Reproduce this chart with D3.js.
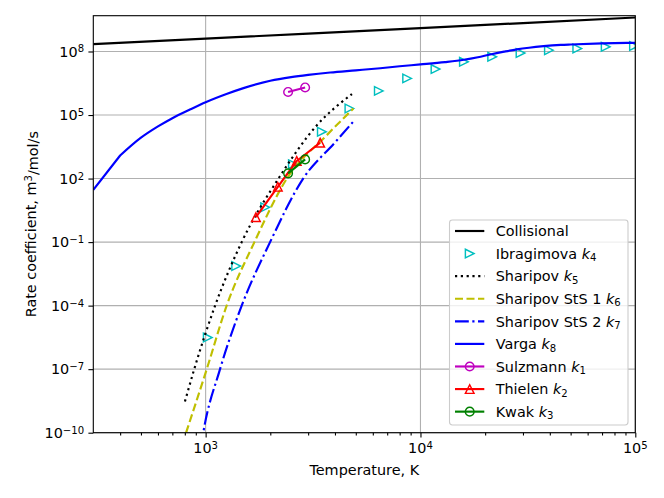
<!DOCTYPE html>
<html>
<head>
<meta charset="utf-8">
<script src="https://cdn.jsdelivr.net/npm/d3@7"></script>
<style>
  html, body { margin: 0; padding: 0; background: #ffffff; }
  svg { display: block; font-family: "DejaVu Sans", sans-serif; }
</style>
</head>
<body>
<svg id="chart" width="664" height="498"></svg>
<script>
// ---------------- data ----------------
const xTicks = [1e3, 1e4, 1e5];
const xTickExp = ["3", "4", "5"];
const yTicks = [1e-10, 1e-7, 1e-4, 1e-1, 1e2, 1e5, 1e8];
const yTickExp = ["\u221210", "\u22127", "\u22124", "\u22121", "2", "5", "8"];
const xMinor = [400, 500, 600, 700, 800, 900, 2000, 3000, 4000, 5000, 6000, 7000, 8000, 9000,
                20000, 30000, 40000, 50000, 60000, 70000, 80000, 90000];

const collisionalT = [300, 1000, 3000, 10000, 30000, 100000];
const collisionalK = [2.21e8, 4.03e8, 6.98e8, 1.27e9, 2.2e9, 4.03e9];

const ibragimovaT = [1023, 1387, 1893, 2548, 3475, 4670, 6400, 8670, 11750, 15930, 21570, 29230, 39620, 53700, 72800, 98600];
const ibragimovaK = [3.1e-6, 7.4e-3, 4.4, 479, 1.62e4, 2.04e5, 1.38e6, 5.37e6, 1.48e7, 3.24e7, 5.62e7, 8.5e7, 1.15e8, 1.38e8, 1.66e8, 1.82e8];

const sharipovT = [801, 885, 1107, 1472, 2183, 3296, 4800];
const sharipovK = [2.95e-9, 1e-7, 1e-4, 1e-1, 1e2, 3.3e4, 9.8e5];

const stsOneT = [780, 811, 1012, 1253, 1687, 2388, 3664, 4875];
const stsOneK = [3e-11, 1e-10, 1e-7, 1e-4, 1e-1, 1e2, 1.12e4, 2.04e5];

const stsTwoT = [950, 975, 1167, 1472, 1995, 2844, 4009, 4876];
const stsTwoK = [2e-11, 1e-10, 1e-7, 1e-4, 1e-1, 1e2, 5.2e3, 5.0e4];

const vargaT = [300, 400, 500, 600, 700, 850, 1000, 1250, 1500, 2000, 2500, 3000, 3800, 5000, 6500, 8000, 10000,
                13000, 15900, 18500, 21100, 24500, 28100, 32000, 37400, 45000, 50000, 70000, 100000];
const vargaK = [2.9e1, 1.23e3, 8.5e3, 2.9e4, 7.1e4, 1.86e5, 4.0e5, 9.8e5, 1.86e6, 4.17e6, 6.2e6, 7.9e6, 1.02e7, 1.29e7,
                1.62e7, 2.0e7, 2.45e7, 3.16e7, 4.07e7, 5.37e7, 7.24e7, 9.8e7, 1.26e8, 1.51e8, 1.78e8, 2.04e8, 2.14e8, 2.4e8, 2.57e8];

const sulzmannT = [2420, 2905];
const sulzmannK = [1.23e6, 2.0e6];

const thielenT = [1714, 2168, 2655, 3413];
const thielenK = [1.5, 40.7, 676, 4900];

const kwakT = [2420, 2905];
const kwakK = [176, 805];

const legendLabels = ["Collisional", "Ibragimova", "Sharipov", "Sharipov StS 1", "Sharipov StS 2", "Varga", "Sulzmann", "Thielen", "Kwak"];
const legendSubs = [null, "4", "5", "6", "7", "8", "1", "2", "3"];

// ---------------- layout ----------------
const L = 93.3, R = 635.3, T = 15.7, B = 432.7;
const FS = 14.4;
const svg = d3.select("#chart");

const x = d3.scaleLog().domain([300, 1e5]).range([L, R]);
const y = d3.scaleLog().domain([1e-10, Math.pow(10, 9.69)]).range([B, T]);

const zip = (a, b) => a.map((v, i) => [v, b[i]]);

svg.append("defs").append("clipPath").attr("id", "clip")
  .append("rect").attr("x", L).attr("y", T).attr("width", R - L).attr("height", B - T);

// grid
const grid = svg.append("g");
grid.selectAll("line.gx").data(xTicks).join("line")
  .attr("x1", d => x(d)).attr("x2", d => x(d)).attr("y1", T).attr("y2", B)
  .attr("stroke", "#b0b0b0").attr("stroke-width", 1.1);
grid.selectAll("line.gy").data(yTicks).join("line")
  .attr("y1", d => y(d)).attr("y2", d => y(d)).attr("x1", L).attr("x2", R)
  .attr("stroke", "#b0b0b0").attr("stroke-width", 1.1);

// series
const plot = svg.append("g").attr("clip-path", "url(#clip)");
const LW = 2.16;
const lineGen = curve => d3.line().x(d => x(d[0])).y(d => y(d[1])).curve(curve);

function drawLine(data, color, dash, curve) {
  plot.append("path").datum(data)
    .attr("d", lineGen(curve || d3.curveLinear))
    .attr("fill", "none").attr("stroke", color).attr("stroke-width", LW)
    .attr("stroke-dasharray", dash || null).attr("stroke-linejoin", "round");
}
const MS = 4.32;
function markerPath(type) {
  if (type === ">") return `M${MS},0L${-MS},${MS}L${-MS},${-MS}Z`;
  if (type === "^") return `M0,${-MS}L${-MS},${MS}L${MS},${MS}Z`;
  return `M${MS},0A${MS},${MS} 0 1,1 ${-MS},0A${MS},${MS} 0 1,1 ${MS},0Z`;
}
function drawMarkers(g, data, color, type) {
  g.selectAll(null).data(data).join("path")
    .attr("transform", d => `translate(${x(d[0])},${y(d[1])})`)
    .attr("d", markerPath(type))
    .attr("fill", "none").attr("stroke", color).attr("stroke-width", 1.44);
}

drawLine(zip(collisionalT, collisionalK), "#000000");
drawMarkers(plot.append("g"), zip(ibragimovaT, ibragimovaK), "#00bfbf", ">");
drawLine(zip(sharipovT, sharipovK), "#000000", "2.2,3.6", d3.curveMonotoneX);
drawLine(zip(stsOneT, stsOneK), "#bfbf00", "8,3.5", d3.curveMonotoneX);
drawLine(zip(stsTwoT, stsTwoK), "#0000ff", "13.8,3.5,2.2,3.5", d3.curveMonotoneX);
// Varga: straight first segment (sparse low-T data), smooth afterwards
{
  const pts = zip(vargaT, vargaK);
  const rest = lineGen(d3.curveMonotoneX)(pts.slice(1));
  const d = `M${x(pts[0][0])},${y(pts[0][1])}L` + rest.slice(1);
  plot.append("path").attr("d", d).attr("fill", "none").attr("stroke", "#0000ff")
    .attr("stroke-width", LW).attr("stroke-linejoin", "round");
}
drawLine(zip(sulzmannT, sulzmannK), "#bf00bf");
drawMarkers(plot.append("g"), zip(sulzmannT, sulzmannK), "#bf00bf", "o");
drawLine(zip(thielenT, thielenK), "#ff0000");
drawMarkers(plot.append("g"), zip(thielenT, thielenK), "#ff0000", "^");
drawLine(zip(kwakT, kwakK), "#008000");
drawMarkers(plot.append("g"), zip(kwakT, kwakK), "#008000", "o");

// frame
svg.append("rect").attr("x", L).attr("y", T).attr("width", R - L).attr("height", B - T)
  .attr("fill", "none").attr("stroke", "#000").attr("stroke-width", 1.1);

// axes (ticks)
const xAxis = svg.append("g").attr("transform", `translate(0,${B})`)
  .call(d3.axisBottom(x).tickValues(xTicks).tickSize(4.9).tickFormat(""));
const xAxisMinor = svg.append("g").attr("transform", `translate(0,${B})`)
  .call(d3.axisBottom(x).tickValues(xMinor).tickSize(2.8).tickFormat(""));
const yAxis = svg.append("g").attr("transform", `translate(${L},0)`)
  .call(d3.axisLeft(y).tickValues(yTicks).tickSize(4.9).tickFormat(""));
[xAxis, xAxisMinor, yAxis].forEach(g => {
  g.select(".domain").remove();
  g.selectAll(".tick line").attr("stroke", "#000").attr("stroke-width", 1.1);
});

// tick labels with superscripts
function powerLabel(sel, exp) {
  sel.append("tspan").text("10");
  sel.append("tspan").attr("dy", "-0.42em").attr("font-size", "0.7em").text(exp);
}
xTicks.forEach((v, i) => {
  const t = svg.append("text").attr("x", x(v)).attr("y", B + 20.5)
    .attr("text-anchor", "middle").attr("font-size", FS).attr("fill", "#000");
  powerLabel(t, xTickExp[i]);
});
yTicks.forEach((v, i) => {
  const t = svg.append("text").attr("x", L - 9.2).attr("y", y(v) + 5.2)
    .attr("text-anchor", "end").attr("font-size", FS).attr("fill", "#000");
  powerLabel(t, yTickExp[i]);
});

// axis titles
svg.append("text").attr("x", (L + R) / 2).attr("y", 475)
  .attr("text-anchor", "middle").attr("font-size", FS).text("Temperature, K");
const yl = svg.append("text").attr("transform", `translate(36,${(T + B) / 2}) rotate(-90)`)
  .attr("text-anchor", "middle").attr("font-size", FS);
yl.append("tspan").text("Rate coefficient, m");
yl.append("tspan").attr("dy", "-0.42em").attr("font-size", "0.7em").text("3");
yl.append("tspan").attr("dy", "0.42em").text("/mol/s");

// legend
const lg = svg.append("g");
lg.append("rect").attr("x", 449.5).attr("y", 220).attr("width", 178.5).attr("height", 205)
  .attr("rx", 2.9).attr("fill", "#fff").attr("fill-opacity", 0.8)
  .attr("stroke", "#cccccc").attr("stroke-width", 1.1);
const legendStyles = [
  {c: "#000000", line: true},
  {c: "#00bfbf", line: false, m: ">"},
  {c: "#000000", line: true, dash: "2.2,3.6"},
  {c: "#bfbf00", line: true, dash: "8,3.5"},
  {c: "#0000ff", line: true, dash: "13.8,3.5,2.2,3.5"},
  {c: "#0000ff", line: true},
  {c: "#bf00bf", line: true, m: "o"},
  {c: "#ff0000", line: true, m: "^"},
  {c: "#008000", line: true, m: "o"}
];
legendLabels.forEach((lab, i) => {
  const cy = 231 + i * 22.58;
  const st = legendStyles[i];
  if (st.line) {
    lg.append("line").attr("x1", 455).attr("x2", 484.3).attr("y1", cy).attr("y2", cy)
      .attr("stroke", st.c).attr("stroke-width", LW).attr("stroke-dasharray", st.dash || null);
  }
  if (st.m) {
    lg.append("path").attr("transform", `translate(469.7,${cy})`).attr("d", markerPath(st.m))
      .attr("fill", "none").attr("stroke", st.c).attr("stroke-width", 1.44);
  }
  const t = lg.append("text").attr("x", 495.7).attr("y", cy + 5.2).attr("font-size", FS).attr("fill", "#000");
  t.append("tspan").text(lab);
  if (legendSubs[i]) {
    t.append("tspan").text(" ");
    t.append("tspan").attr("font-style", "italic").text("k");
    t.append("tspan").attr("dy", "0.25em").attr("font-size", "0.7em").text(legendSubs[i]);
  }
});
</script>
</body>
</html>
